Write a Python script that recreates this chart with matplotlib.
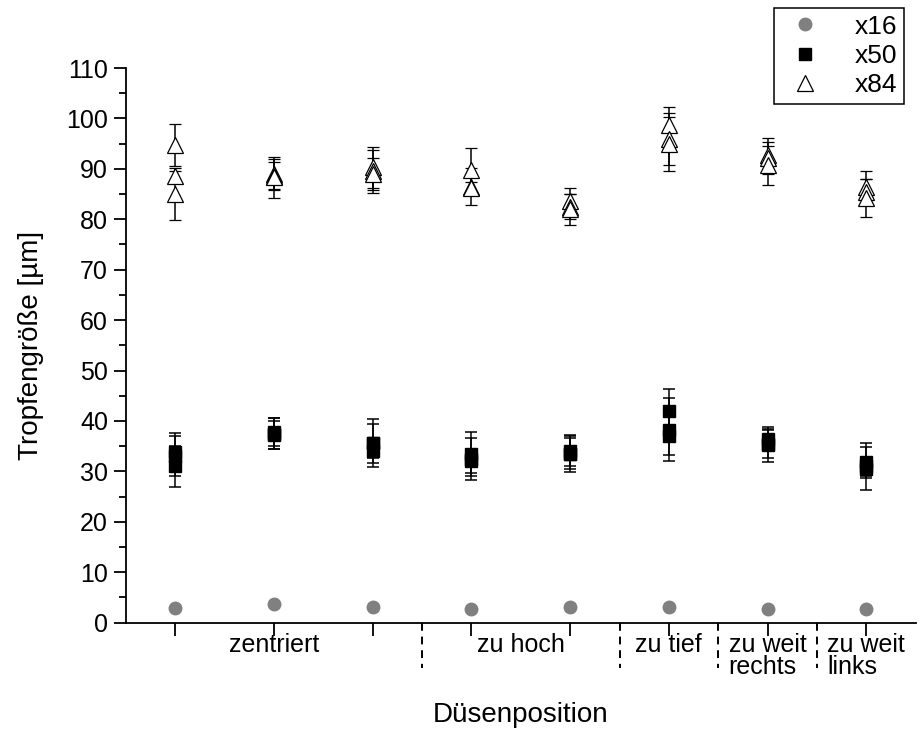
import numpy as np
import matplotlib
matplotlib.use('Agg')
import matplotlib.pyplot as plt
from matplotlib.lines import Line2D
from matplotlib.ticker import MultipleLocator
import matplotlib.transforms as mtransforms

plt.rcParams['font.family'] = ['Liberation Sans', 'DejaVu Sans']

# Düsenposition 1..8
positions = [1, 2, 3, 4, 5, 6, 7, 8]

# x16: one value per position
x16 = [2.9, 3.7, 3.2, 2.8, 3.2, 3.1, 2.8, 2.8]

# x50: three measurements per position (value, error)
x50 = [[33.8, 33.0, 31.0], [37.8, 37.5, 37.2], [35.6, 35.6, 34.0], [33.5, 32.5, 32.0],
       [33.5, 33.5, 34.0], [42.0, 38.3, 37.0], [36.5, 35.5, 35.2], [31.0, 31.8, 30.5]]
x50_err = [[3.9, 4.0, 4.0], [2.8, 3.0, 2.8], [4.7, 3.9, 1.4], [4.4, 4.2, 2.4],
           [3.7, 3.1, 3.0], [4.4, 6.2, 3.7], [2.3, 2.8, 3.3], [4.7, 3.1, 1.5]]

# x84: three measurements per position
x84 = [[94.7, 88.6, 85.0], [89.0, 88.6, 88.3], [90.3, 89.5, 89.0], [89.8, 86.5, 86.3],
       [83.7, 82.5, 82.0], [98.6, 95.9, 94.9], [92.8, 92.2, 90.7], [86.5, 85.5, 84.2]]
x84_err = [[4.1, 1.0, 5.1], [3.0, 2.7, 4.0], [4.1, 4.2, 3.1], [4.3, 3.6, 1.1],
           [2.6, 2.5, 3.1], [3.6, 5.2, 5.3], [3.4, 3.2, 3.9], [3.0, 2.5, 3.8]]

# category labels below the axis
groups = ['zentriert', 'zu hoch', 'zu tief', 'zu weit\nrechts', 'zu weit\nlinks']
group_centers = [2, 4.5, 6, 7, 8]
separators = [3.5, 5.5, 6.5, 7.5]

fig = plt.figure(figsize=(9.24, 7.42), dpi=100)
ax = fig.add_axes([126 / 924, 1 - 622.7 / 742, (915.6 - 126) / 924, (622.7 - 68) / 742])

x50_arr = np.array(x50)
x50_err_arr = np.array(x50_err)
x84_arr = np.array(x84)
x84_err_arr = np.array(x84_err)

for k in range(3):
    ax.errorbar(positions, x50_arr[:, k], yerr=x50_err_arr[:, k], fmt='s', ms=8.5,
                color='black', mfc='black', mec='black', ecolor='black',
                elinewidth=1.1, capsize=4.5, capthick=1.1, zorder=3)
for k in range(3):
    ax.errorbar(positions, x84_arr[:, k], yerr=x84_err_arr[:, k], fmt='^', ms=11,
                color='black', mfc='white', mec='black', mew=0.9, ecolor='black',
                elinewidth=1.1, capsize=4.5, capthick=1.1, zorder=3)
ax.plot(positions, x16, 'o', ms=9, color='#808080', mec='#808080', zorder=4)

ax.set_xlim(0.5, 8.5)
ax.set_ylim(0, 110)
ax.set_xticks(positions)
ax.set_xticklabels([])
ax.yaxis.set_major_locator(MultipleLocator(10))
ax.yaxis.set_minor_locator(MultipleLocator(5))
ax.tick_params(axis='both', which='major', direction='out', length=9, width=1.3,
               labelsize=18, pad=4)
ax.tick_params(axis='y', which='minor', direction='out', length=5, width=1.3)
ax.spines['top'].set_visible(False)
ax.spines['right'].set_visible(False)
ax.spines['left'].set_linewidth(1.3)
ax.spines['bottom'].set_linewidth(1.3)

ax.set_ylabel('Tropfengröße [µm]', fontsize=20, labelpad=16)
ax.set_xlabel('Düsenposition', fontsize=20, labelpad=44)

trans = mtransforms.blended_transform_factory(ax.transData, ax.transAxes)
for s in separators:
    ax.plot([s, s], [0, -0.082], transform=trans, color='black', lw=1.4,
            ls=(0, (4, 3)), clip_on=False)
for g, c in zip(groups, group_centers):
    ax.text(c, -0.018, g, transform=trans, ha='center', va='top', fontsize=18,
            multialignment='left', linespacing=0.9)

handles = [Line2D([], [], ls='none', marker='o', ms=9, color='#808080'),
           Line2D([], [], ls='none', marker='s', ms=8.5, color='black'),
           Line2D([], [], ls='none', marker='^', ms=11, mfc='white', mec='black', mew=0.9)]
leg = ax.legend(handles, ['x16', 'x50', 'x84'], loc='upper right',
                bbox_to_anchor=(904 / 924, 1 - 8 / 742), bbox_transform=fig.transFigure,
                borderaxespad=0, fancybox=False, framealpha=1, edgecolor='black',
                fontsize=19, handletextpad=1.0, labelspacing=0.2, borderpad=0.25,
                handlelength=1.8)
leg.get_frame().set_linewidth(1.1)

fig.savefig('out.png', dpi=100)
